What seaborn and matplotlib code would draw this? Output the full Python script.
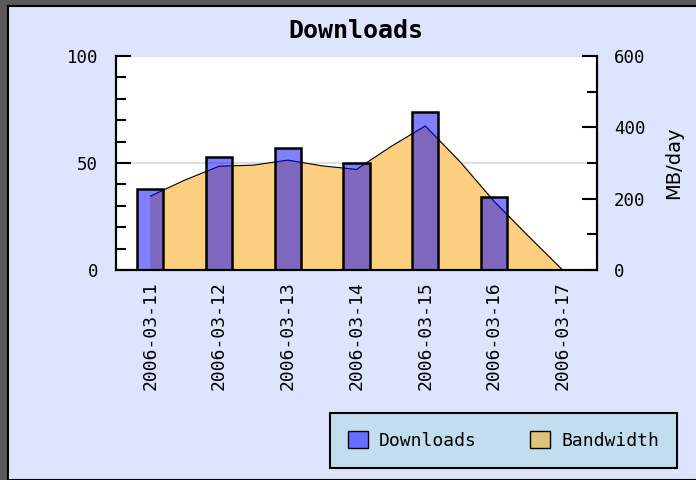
import numpy as np
import pandas as pd
import matplotlib
matplotlib.use("Agg")
import matplotlib.pyplot as plt
from matplotlib.patches import Patch, Rectangle
import seaborn as sns

# chart data
days = ["2006-03-11", "2006-03-12", "2006-03-13", "2006-03-14",
        "2006-03-15", "2006-03-16", "2006-03-17"]
downloads = [38, 53, 57, 50, 74, 34, 0]
# bandwidth sampled every half day (MB/day)
bw_pos = [0, 0.5, 1, 1.5, 2, 2.5, 3, 3.5, 4, 4.5, 5, 5.5, 6]
bandwidth = [207, 252, 291, 294, 308, 292, 282, 346, 404, 305, 193, 95, 0]

left_ticks = [0, 50, 100]
right_ticks = [0, 200, 400, 600]

lavender = "#dde4fc"
bar_rgba = (0, 0, 1, 0.5)
area_col = "#fccf80"
mono = "DejaVu Sans Mono"

sns.set_style("white")
plt.rcParams.update({"text.color": "black", "axes.labelcolor": "black",
                     "xtick.color": "black", "ytick.color": "black"})
fig = plt.figure(figsize=(6.96, 4.8), dpi=100)
fig.patch.set_facecolor("#5a5a5a")
fig.patches.append(Rectangle((8 / 696, 0), 1, 1 - 6 / 480, transform=fig.transFigure,
                             facecolor=lavender, edgecolor="black", lw=1.5, zorder=-1))

ax = fig.add_axes([116 / 696, 1 - 270 / 480, 481 / 696, 214 / 480])
ax2 = ax.twinx()
ax.set_zorder(ax2.get_zorder() + 1)
ax.patch.set_visible(False)
ax2.patch.set_visible(True)
ax2.patch.set_facecolor("white")

# bandwidth area on the right axis
ax2.axhline(300, color="#d9d9d9", lw=1.2, zorder=0)
ax2.axhline(600, color="#d9d9d9", lw=1.2, zorder=0)
ax2.fill_between(bw_pos, bandwidth, 0, color=area_col, zorder=1)
ax2.plot(bw_pos, bandwidth, color="black", lw=0.8, zorder=2)
ax2.set_ylim(0, 600)
ax2.set_yticks(right_ticks)
ax2.set_yticks(np.arange(0, 601, 100), minor=True)
ax2.set_ylabel("MB/day", fontsize=14, family="DejaVu Sans", labelpad=14)

# downloads bars on the left axis
df = pd.DataFrame({"day": days, "downloads": downloads})
sns.barplot(data=df, x="day", y="downloads", ax=ax, width=0.38,
            saturation=1, color="blue")
for p in ax.patches:
    p.set_facecolor(bar_rgba)
    p.set_edgecolor("black")
    p.set_linewidth(1.8)
ax.set_ylim(0, 100)
ax.set_xlim(-0.5, 6.5)
ax.set_yticks(left_ticks)
ax.set_yticks(np.arange(0, 101, 10), minor=True)
ax.set_xticks(np.arange(0.5, 6, 1), minor=True)
ax.set_xlabel("")
ax.set_ylabel("")
ax.set_xticklabels(days, rotation=90, family=mono, fontsize=13)
for t in ax.get_yticklabels() + ax2.get_yticklabels():
    t.set_family(mono)
    t.set_fontsize(12.5)

ax.tick_params(axis="x", which="major", length=0, pad=8)
ax.tick_params(axis="x", which="minor", direction="in", length=9, width=1.5)
ax.tick_params(axis="y", which="major", direction="in", length=11, width=1.5, pad=13)
ax.tick_params(axis="y", which="minor", direction="in", length=7, width=1.5)
ax2.tick_params(axis="y", which="major", direction="in", length=11, width=1.5, pad=12)
ax2.tick_params(axis="y", which="minor", direction="in", length=7, width=1.5)

for a in (ax, ax2):
    a.spines["top"].set_visible(False)
    for s in ("left", "right", "bottom"):
        a.spines[s].set_color("black")
        a.spines[s].set_linewidth(1.5)

fig.text(356 / 696, 1 - 31 / 480, "Downloads", ha="center", va="center",
         family=mono, fontweight="bold", fontsize=18)

handles = [Patch(facecolor="#6670ff", edgecolor="black", label="Downloads"),
           Patch(facecolor="#e2c27a", edgecolor="black", label="Bandwidth")]
leg = fig.legend(handles=handles, loc="lower left",
                 bbox_to_anchor=(330 / 696, 12 / 480, 347 / 696, 52 / 480),
                 mode="expand", ncol=2, prop={"family": mono, "size": 13},
                 handlelength=1.1, handleheight=1.1, handletextpad=0.6,
                 borderpad=1.0, borderaxespad=0, fancybox=False, framealpha=1)
leg.get_frame().set_facecolor("#c2deee")
leg.get_frame().set_edgecolor("black")
leg.get_frame().set_linewidth(1.5)

fig.savefig("out.png", dpi=100, facecolor=fig.get_facecolor())
